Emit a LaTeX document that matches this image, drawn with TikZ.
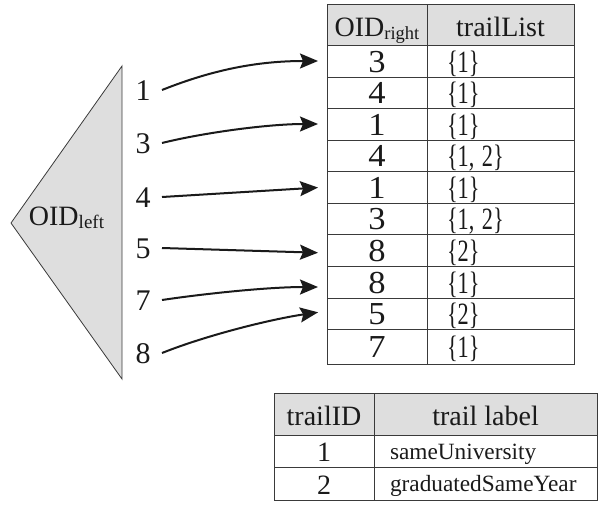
\documentclass[tikz,border=0pt]{standalone}
\usepackage{fontspec}
\setmainfont{Liberation Serif}
\usetikzlibrary{arrows.meta}

\definecolor{hdr}{HTML}{DEDEDE}
\definecolor{rulec}{HTML}{3A3A3A}
\definecolor{ink}{HTML}{1A1A1A}

\newcommand{\bigfs}{\fontsize{28}{30}\selectfont}
\newcommand{\lblfs}{\fontsize{30}{32}\selectfont}
\newcommand{\oidfs}{\fontsize{32}{34}\selectfont}
\newcommand{\setfs}{\fontsize{31}{33}\selectfont}
\newcommand{\wide}[1]{\scalebox{1.08}[1]{#1}}
\newcommand{\narrow}[1]{\scalebox{0.72}[1]{#1}}

\tikzset{
  cell/.style={draw=rulec, line width=0.9pt, inner sep=0pt, outer sep=0pt, text=ink},
  idcell/.style={cell, minimum width=100pt, font=\oidfs, text height=22pt, text depth=0pt},
  setcell/.style={cell, minimum width=147pt, inner xsep=20pt, text width=107pt, align=left,
                  font=\setfs, text height=22pt, text depth=0pt},
  headcell/.style={cell, fill=hdr, font=\bigfs, text height=23pt, text depth=0pt},
  tidcell/.style={cell, minimum width=100pt, font=\bigfs, text height=21pt, text depth=0pt},
  labcell/.style={cell, minimum width=223pt, inner xsep=16pt, text width=191pt, align=left,
                  font=\fontsize{23.3}{25}\selectfont, text height=16pt, text depth=0pt},
  lbl/.style={inner sep=0pt, outer sep=0pt, minimum width=38pt, font=\lblfs, text=ink,
              text height=20pt, text depth=0pt},
  tri/.style={fill=hdr, draw=rulec, line width=0.8pt, line join=miter},
  link/.style={draw=ink, line width=2pt, shorten >=9pt,
               -{Stealth[length=18pt, width=15pt, inset=3pt]}}
}

\begin{document}
\begin{tikzpicture}[x=1pt, y=-1pt]
\useasboundingbox (0,0) rectangle (599,504);

% left relation: triangle with its label and the OID values
\filldraw[tri] (122,66) -- (11,223) -- (122,379) -- cycle;
\node[font=\bigfs, text=ink, anchor=base, inner sep=0pt] (tl) at (66.5,225)
  {OID\raisebox{-3.5pt}{\fontsize{19}{19}\selectfont left}};

\node[lbl] (n1) at (143,90)  {1};
\node[lbl] (n2) at (143,143) {3};
\node[lbl] (n3) at (143,197) {4};
\node[lbl] (n4) at (143,248) {5};
\node[lbl] (n5) at (143,300) {7};
\node[lbl] (n6) at (143,353) {8};

% right table: header
\node[headcell, minimum width=100pt, minimum height=41pt] (ha) at (377,24.5)
  {OID\raisebox{-3.5pt}{\fontsize{18.5}{18}\selectfont right}};
\node[headcell, minimum width=147pt, minimum height=41pt] (hb) at (500.5,24.5) {trailList};

% right table: rows
\foreach \r/\c/\h/\v/\s in {1/61/32/3/1, 2/92.5/31/4/1, 3/124/32/1/1, 4/155.5/31/4/{1, 2},
    5/187/32/1/1, 6/218.5/31/3/{1, 2}, 7/250/32/8/2, 8/282/32/8/1, 9/313.5/31/5/2,
    10/346.5/35/7/1}{
  \node[idcell, minimum height=\h pt] (a\r) at (377,\c) {\wide{\v}};
  \node[setcell, minimum height=\h pt] (b\r) at (500.5,\c) {\narrow{\{\s\}}};
}

% links from the left values to the matching rows
\draw[link] (n1.east) .. controls +(50,-20) and +(-70,0) .. (a1.west);
\draw[link] (n2.east) .. controls +(40,-10) and +(-60,0) .. (a3.west);
\draw[link] (n3.east) -- (a5.west);
\draw[link] (n4.east) -- ([yshift=-3pt]a7.west);
\draw[link] (n5.east) .. controls +(40,-6) and +(-60,0) .. ([yshift=-5pt]a8.west);
\draw[link] (n6.east) .. controls +(45,-18) and +(-55,8) .. ([yshift=2.5pt]a9.west);

% trail table
\node[headcell, minimum width=100pt, minimum height=42pt, text height=22pt] (ta) at (324,414) {trailID};
\node[headcell, minimum width=223pt, minimum height=42pt, text height=22pt] (tb) at (485.5,414) {trail label};
\node[tidcell, minimum height=32pt] (tc1) at (324,451) {1};
\node[labcell, minimum height=32pt] (td1) at (485.5,451) {sameUniversity};
\node[tidcell, minimum height=33pt] (tc2) at (324,483.5) {2};
\node[labcell, minimum height=33pt] (td2) at (485.5,483.5) {graduatedSameYear};
\end{tikzpicture}
\end{document}
